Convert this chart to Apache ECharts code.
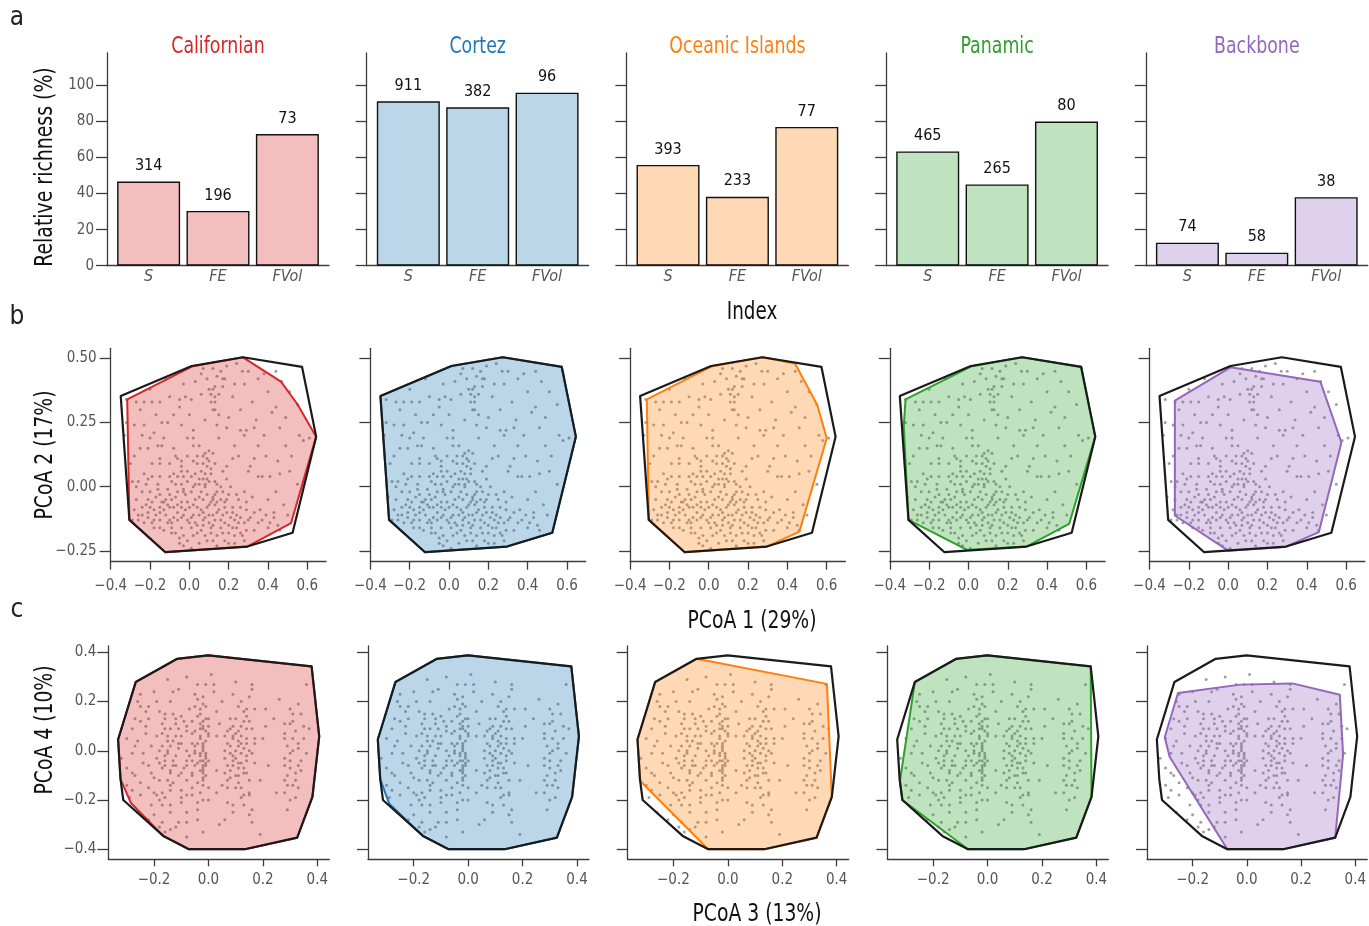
<!DOCTYPE html>
<html>
<head>
<meta charset="utf-8">
<script src="https://cdn.jsdelivr.net/npm/echarts@6/dist/echarts.min.js"></script>
<style>
  html, body { margin: 0; padding: 0; background: #fff; }
  #chart { width: 1369px; height: 926px; }
</style>
</head>
<body>
<div id="chart"></div>
<script>
// ---- data -------------------------------------------------------------
const regions = ['Californian', 'Cortez', 'Oceanic Islands', 'Panamic', 'Backbone'];
const regionColors = ['#d62728', '#1f77b4', '#ff7f0e', '#2ca02c', '#9467bd'];
const indexNames = ['S', 'FE', 'FVol'];

// relative richness (%) per region: species, functional entities, functional volume
const speciesPct = [46.7, 91.2, 55.9, 63.4, 12.8];
const fePct      = [30.4, 87.9, 38.2, 45.1, 7.2];
const fvolPct    = [73, 96, 77, 80, 38];
// absolute counts printed above the S and FE bars
const speciesCount = [314, 911, 393, 465, 74];
const feCount      = [196, 382, 233, 265, 58];

// species scores on PCoA axes 1 and 2
const pcoa12 = [
  [0.24,0.48],[0.07,0.46],[0.12,0.46],[0.16,0.45],[0.27,0.45],[0.38,0.44],[0.09,0.42],[0.17,0.42],[0.35,0.42],[0.47,0.41],
  [0.23,0.40],[0.13,0.39],[0.17,0.39],[-0.03,0.40],[0.51,0.37],[-0.20,0.38],[-0.10,0.35],[0.06,0.36],[0.11,0.36],[0.15,0.36],
  [-0.32,0.34],[-0.27,0.33],[-0.23,0.33],[-0.19,0.33],[-0.15,0.33],[-0.05,0.34],[0.01,0.34],[0.13,0.33],[0.32,0.33],[0.55,0.32],
  [-0.05,0.31],[0.13,0.30],[0.49,0.27],[0.34,0.26],[-0.32,0.25],[-0.28,0.24],[-0.14,0.25],[-0.11,0.25],[-0.23,0.24],[-0.04,0.24],
  [0.14,0.24],[0.19,0.23],[0.26,0.22],[0.29,0.22],[0.33,0.23],[0.46,0.23],[0.02,0.22],[-0.18,0.21],[0.02,0.19],[0.28,0.20],
  [0.61,0.19],[-0.20,0.19],[-0.01,0.19],[0.58,0.18],[-0.25,0.15],[-0.21,0.15],[-0.16,0.16],[-0.14,0.16],[0.02,0.16],[0.05,0.16],
  [0.23,0.16],[0.35,0.16],[0.49,0.16],[-0.07,0.12],[-0.06,0.11],[-0.15,0.11],[0.04,0.12],[0.08,0.13],[0.12,0.13],[0.09,0.11],
  [-0.04,0.10],[0.02,0.10],[0.07,0.09],[-0.15,0.09],[-0.10,0.09],[0.09,0.08],[0.19,0.08],[0.22,0.11],[0.31,0.08],[-0.08,0.05],
  [-0.04,0.06],[-0.01,0.06],[0.03,0.05],[0.11,0.05],[0.30,0.06],[-0.23,0.05],[-0.21,0.03],[-0.19,0.04],[-0.15,0.04],[-0.10,0.04],
  [-0.06,0.04],[-0.03,0.04],[0.01,0.04],[0.07,0.03],[0.09,0.03],[0.13,0.02],[0.19,0.03],[0.35,0.04],[0.37,0.04],[0.41,0.04],
  [0.46,0.05],[-0.29,0.02],[-0.26,0.02],[-0.16,0.01],[-0.09,0.02],[-0.04,0.01],[-0.01,0.02],[0.03,0.01],[0.08,0.01],[0.14,0.01],
  [-0.15,-0.03],[-0.10,-0.03],[-0.06,-0.02],[-0.03,-0.01],[0.02,0.00],[0.06,-0.02],[0.09,-0.03],[0.14,-0.02],[0.20,-0.03],[0.24,-0.03],
  [0.28,-0.02],[-0.21,-0.05],[-0.17,-0.04],[-0.13,-0.06],[-0.09,-0.05],[-0.04,-0.06],[-0.01,-0.06],[0.03,-0.05],[0.07,-0.05],[0.12,-0.05],
  [0.16,-0.05],[0.19,-0.05],[0.32,-0.04],[-0.28,-0.09],[-0.24,-0.08],[-0.20,-0.08],[-0.15,-0.08],[-0.11,-0.07],[-0.08,-0.08],[-0.04,-0.08],
  [0.00,-0.08],[0.04,-0.08],[0.09,-0.08],[0.13,-0.07],[0.18,-0.08],[0.22,-0.08],[0.26,-0.08],[0.29,-0.09],[-0.26,-0.11],[-0.21,-0.10],
  [-0.15,-0.10],[-0.12,-0.11],[-0.06,-0.10],[-0.03,-0.11],[0.02,-0.11],[0.07,-0.10],[0.10,-0.11],[0.14,-0.10],[0.19,-0.10],[0.24,-0.11],
  [0.33,-0.10],[0.39,-0.11],[0.43,-0.10],[0.50,-0.11],[-0.29,-0.13],[-0.23,-0.14],[-0.18,-0.13],[-0.11,-0.14],[-0.06,-0.13],[-0.01,-0.13],
  [0.03,-0.14],[0.07,-0.13],[0.13,-0.13],[0.18,-0.14],[0.23,-0.13],[0.28,-0.14],[0.35,-0.14],[0.41,-0.14],[0.45,-0.15],[-0.15,-0.16],
  [-0.09,-0.16],[-0.04,-0.16],[0.01,-0.16],[0.06,-0.17],[0.11,-0.16],[0.16,-0.16],[0.22,-0.16],[0.29,-0.17],[0.46,-0.17],[-0.09,-0.18],
  [-0.03,-0.19],[0.04,-0.18],[0.14,-0.19],[0.20,-0.18],[0.26,-0.18],[-0.01,-0.21],[0.09,-0.21],[0.18,-0.21],[0.28,-0.21],[-0.03,-0.23],
  [0.01,-0.24],[0.14,-0.23],[0.23,-0.22],[-0.19,-0.06],[-0.13,-0.09],[-0.07,-0.04],[0.05,-0.04],[0.11,-0.06],[0.15,-0.09],[0.21,-0.12],
  [0.25,-0.14],[-0.17,-0.11],[-0.21,-0.12],[-0.08,-0.12],[0.00,-0.14],[0.05,-0.11],[0.10,-0.14],[0.17,-0.11],[-0.12,-0.05],[-0.02,-0.03],
  [0.08,0.00],[0.12,-0.04],[0.16,0.00],[-0.04,0.08],[0.06,0.06],[0.10,0.10],[-0.24,-0.02],[-0.26,-0.13],[0.31,-0.12],[0.36,-0.09],
  [0.40,-0.16],[0.27,-0.19],[0.33,-0.17],[0.00,0.28],[0.06,0.44],[0.19,0.47],[0.10,0.38],[-0.12,0.42],[0.42,0.29],[0.52,0.12],
  [0.55,0.01],[0.45,0.10],[-0.30,0.09],[-0.33,0.20],[-0.27,-0.05],[-0.18,-0.16],[-0.05,-0.20],[0.08,-0.19],[0.12,-0.15],[-0.10,-0.13],
  [-0.22,-0.07],[-0.18,-0.09],[-0.14,-0.06],[-0.10,-0.08],[-0.06,-0.07],[-0.02,-0.09],[0.02,-0.07],[0.06,-0.09],[0.10,-0.07],[0.14,-0.06],
  [0.18,-0.06],[0.22,-0.10],[0.26,-0.12],[0.30,-0.13],[-0.24,-0.11],[-0.19,-0.14],[-0.15,-0.13],[-0.09,-0.14],[-0.04,-0.12],[0.01,-0.12],
  [0.04,-0.15],[0.08,-0.12],[0.12,-0.11],[0.16,-0.13],[0.20,-0.15],[0.24,-0.16],[-0.13,-0.17],[-0.07,-0.18],[0.02,-0.19],[0.07,-0.15],
  [0.11,-0.18],[0.17,-0.18],[0.23,-0.19],[-0.05,-0.22],[0.05,-0.22],[0.12,-0.21],[0.20,-0.22],[-0.20,-0.02],[-0.16,-0.01],[-0.11,-0.01],
  [-0.07,0.01],[-0.03,-0.02],[0.01,-0.02],[0.05,0.01],[0.10,0.02],[0.13,-0.03],[0.17,-0.02],[0.21,0.00],[0.25,-0.05],[0.29,-0.06],
  [-0.27,0.00],[-0.22,0.01],[0.05,0.03],[0.08,0.05],[0.11,0.07],[0.13,0.09],[0.07,0.12],[0.10,0.14],[0.04,0.09],[-0.01,0.12],
  [0.12,0.30],[0.11,0.33],[0.13,0.35],[0.12,0.38],[0.14,0.43],[0.15,0.28],[0.08,0.26],[-0.08,0.28],[-0.17,0.28],[-0.25,0.30],
  [0.22,0.35],[0.28,0.40],[0.40,0.37],[0.44,0.31],[0.38,0.20],[0.26,0.30],[0.20,0.27],[-0.13,0.19],[-0.28,0.12],[-0.31,-0.04],
  [0.40,-0.05],[0.44,-0.02],[0.48,-0.07],[0.37,-0.13],[0.43,-0.12],[0.15,0.19],[0.25,0.12],[0.33,0.11],[0.39,0.12],[-0.02,0.35],
  [0.03,0.41],[0.18,0.42],[0.30,0.45],[0.44,0.45],[0.56,0.20],[0.51,0.06],[-0.19,0.09],[-0.24,0.20],[-0.08,0.15],[0.17,0.06]
];

// species scores on PCoA axes 3 and 4
const pcoa34 = [
  [-0.15,0.29],[0.01,0.31],[-0.04,0.27],[-0.01,0.27],[0.16,0.27],[0.16,0.25],[0.02,0.24],[0.09,0.23],[-0.25,0.23],[-0.13,0.24],
  [-0.11,0.25],[-0.05,0.23],[-0.02,0.22],[-0.19,0.20],[-0.14,0.20],[0.12,0.20],[-0.25,0.18],[-0.22,0.18],[-0.07,0.17],[-0.05,0.18],
  [-0.03,0.17],[-0.01,0.18],[0.14,0.17],[0.13,0.16],[0.17,0.17],[0.03,0.16],[0.31,0.15],[0.34,0.15],[0.33,0.19],[0.36,0.27],
  [-0.27,0.13],[-0.22,0.13],[-0.18,0.16],[-0.16,0.15],[-0.12,0.13],[-0.10,0.14],[-0.06,0.12],[-0.03,0.11],[0.00,0.13],[-0.02,0.10],
  [0.08,0.13],[0.10,0.13],[0.13,0.12],[0.15,0.12],[0.28,0.11],[0.30,0.11],[-0.28,0.09],[-0.16,0.09],[-0.14,0.09],[-0.11,0.09],
  [-0.08,0.08],[-0.05,0.08],[-0.02,0.09],[0.00,0.07],[0.08,0.09],[0.11,0.08],[0.14,0.09],[0.16,0.09],[-0.23,0.07],[-0.17,0.07],
  [-0.15,0.06],[-0.10,0.06],[-0.06,0.07],[-0.03,0.06],[0.00,0.06],[0.03,0.06],[0.06,0.06],[0.09,0.05],[0.12,0.06],[0.17,0.05],
  [0.28,0.07],[0.28,0.05],[0.31,0.05],[0.35,0.05],[-0.30,0.05],[-0.27,0.02],[-0.17,0.02],[-0.14,0.02],[-0.10,0.03],[-0.06,0.03],
  [-0.04,0.03],[-0.02,0.02],[0.07,0.03],[0.11,0.02],[0.14,0.03],[0.17,0.03],[-0.28,-0.01],[-0.24,-0.01],[-0.18,0.00],[-0.15,-0.01],
  [-0.11,0.01],[-0.08,0.00],[-0.05,-0.01],[-0.03,-0.01],[-0.01,-0.01],[0.06,0.00],[0.08,-0.01],[0.12,-0.01],[0.14,-0.02],[0.16,-0.01],
  [0.33,0.01],[0.31,0.00],[0.36,-0.01],[-0.19,-0.03],[-0.16,-0.04],[-0.13,-0.04],[-0.08,-0.04],[-0.06,-0.04],[-0.03,-0.04],[-0.02,-0.04],
  [0.06,-0.03],[0.09,-0.04],[0.14,-0.04],[0.28,-0.03],[0.30,-0.04],[0.34,-0.04],[-0.22,-0.06],[-0.17,-0.07],[-0.13,-0.06],[-0.08,-0.06],
  [-0.05,-0.06],[-0.02,-0.06],[-0.01,-0.05],[0.07,-0.06],[0.09,-0.06],[0.12,-0.05],[0.17,-0.05],[0.33,-0.06],[-0.28,-0.09],[-0.21,-0.09],
  [-0.14,-0.08],[-0.10,-0.09],[-0.06,-0.09],[-0.03,-0.08],[-0.02,-0.08],[0.08,-0.08],[0.11,-0.10],[0.14,-0.09],[0.29,-0.10],[0.34,-0.08],
  [-0.25,-0.13],[-0.18,-0.12],[-0.15,-0.12],[-0.13,-0.13],[-0.08,-0.12],[-0.04,-0.13],[-0.02,-0.11],[0.07,-0.12],[0.11,-0.13],[0.15,-0.12],
  [0.28,-0.12],[0.32,-0.12],[0.31,-0.14],[-0.28,-0.16],[-0.20,-0.17],[-0.17,-0.17],[-0.14,-0.16],[-0.10,-0.16],[-0.06,-0.15],[-0.02,-0.14],
  [0.00,-0.15],[0.07,-0.15],[0.12,-0.15],[0.15,-0.17],[0.28,-0.17],[0.25,-0.17],[-0.25,-0.18],[-0.19,-0.18],[-0.16,-0.19],[-0.08,-0.18],
  [-0.06,-0.18],[0.03,-0.17],[0.13,-0.18],[0.15,-0.18],[-0.02,-0.20],[0.00,-0.20],[-0.21,-0.22],[-0.17,-0.22],[-0.14,-0.22],[-0.10,-0.21],
  [0.07,-0.21],[0.09,-0.22],[0.30,-0.20],[0.29,-0.24],[-0.20,-0.26],[-0.14,-0.25],[-0.08,-0.25],[-0.04,-0.24],[0.09,-0.25],[0.15,-0.26],
  [0.16,-0.29],[-0.17,-0.29],[-0.11,-0.29],[-0.08,-0.29],[-0.04,-0.28],[0.06,-0.28],[-0.16,-0.33],[-0.14,-0.32],[-0.08,-0.35],[-0.02,-0.33],
  [0.19,-0.34],[-0.01,0.04],[-0.02,0.00],[-0.01,-0.03],[-0.02,-0.07],[-0.01,-0.10],[0.00,0.10],[-0.03,0.15],[0.10,0.00],[0.09,-0.02],
  [0.11,0.04],[0.10,0.07],[0.13,-0.07],[0.10,-0.10],[-0.13,0.04],[-0.15,0.00],[-0.12,-0.02],[-0.16,-0.06],[-0.11,-0.10],[-0.12,0.11],
  [0.32,0.08],[0.30,-0.07],[0.33,-0.15],[-0.30,-0.07],[-0.23,0.10],[0.05,0.20],[0.21,0.10],[0.24,0.13],[-0.26,0.20],[0.37,0.09],
  [-0.32,-0.03],[-0.30,-0.14],[-0.29,-0.19],[-0.26,-0.25],[-0.22,-0.28],[-0.18,-0.31],[-0.01,-0.02],[-0.02,0.03],[0.11,-0.07],[0.13,0.01],
  [-0.02,0.01],[-0.01,-0.06],[-0.02,-0.09],[-0.03,0.05],[-0.01,0.08],[-0.02,0.12],[-0.04,0.14],[-0.03,-0.02],[-0.02,-0.12],[-0.01,0.13],
  [-0.04,-0.05],[-0.05,0.02],[-0.03,0.09],[0.00,-0.04],[-0.02,0.19],[-0.04,0.21],[-0.06,-0.10],[-0.03,-0.17],[-0.04,-0.21],[-0.05,0.00],
  [0.08,0.02],[0.09,0.06],[0.10,-0.03],[0.12,0.03],[0.11,-0.05],[0.13,-0.09],[0.09,0.10],[0.12,0.10],[0.14,0.05],[0.15,0.00],
  [0.08,-0.11],[0.10,-0.15],[0.12,-0.19],[0.14,0.14],[0.11,0.18],[0.15,0.22],[0.13,-0.22],[0.16,-0.24],[0.07,0.08],[0.06,-0.09],
  [-0.15,0.04],[-0.16,-0.02],[-0.14,-0.09],[-0.12,0.06],[-0.17,0.11],[-0.13,0.15],[-0.19,0.06],[-0.18,-0.05],[-0.12,-0.06],[-0.11,0.03],
  [-0.16,0.13],[-0.14,-0.14],[-0.10,-0.19],[-0.18,-0.20],[-0.09,0.12],[-0.07,-0.02],[-0.08,0.10],[-0.21,0.02],[-0.20,-0.11],[-0.09,-0.07],
  [0.29,0.02],[0.30,-0.01],[0.32,-0.09],[0.31,0.12],[0.29,-0.14],[0.33,0.03],[0.28,-0.06],[0.35,0.10],[0.32,-0.19],[0.30,0.17],
  [-0.26,0.04],[-0.24,-0.05],[-0.27,-0.10],[-0.25,0.12],[-0.22,-0.15],[-0.23,0.16],[0.04,0.11],[0.03,-0.08],[0.05,-0.14],[0.20,0.05],
  [0.22,-0.06],[0.21,0.17],[0.02,0.27],[-0.08,0.30],[0.10,0.28],[-0.20,0.24],[0.26,0.21],[0.19,-0.12],[0.04,-0.30],[-0.12,-0.31]
];

// convex hull of the whole species pool, PCoA 1-2 and PCoA 3-4
const poolHull12 = [[-0.349,0.353],[0.012,0.470],[0.273,0.504],[0.573,0.467],[0.645,0.195],[0.525,-0.179],[0.295,-0.233],[-0.122,-0.255],[-0.305,-0.129]];
const poolHull34 = [[-0.267,0.280],[-0.115,0.374],[-0.001,0.388],[0.379,0.343],[0.407,0.059],[0.382,-0.187],[0.326,-0.353],[0.134,-0.400],[-0.072,-0.400],[-0.166,-0.346],[-0.313,-0.200],[-0.323,-0.116],[-0.332,0.046]];

// convex hull of each region's species
const regionHull12 = [
  [[-0.316,0.340],[0.012,0.468],[0.273,0.504],[0.466,0.409],[0.549,0.322],[0.645,0.195],[0.517,-0.142],[0.295,-0.233],[-0.122,-0.255],[-0.305,-0.129]],
  [[-0.349,0.353],[0.012,0.470],[0.273,0.504],[0.573,0.467],[0.645,0.195],[0.525,-0.179],[0.295,-0.233],[-0.122,-0.255],[-0.305,-0.129]],
  [[-0.315,0.340],[0.012,0.468],[0.273,0.504],[0.439,0.480],[0.552,0.318],[0.600,0.189],[0.461,-0.175],[0.295,-0.233],[-0.122,-0.255],[-0.305,-0.129]],
  [[-0.320,0.340],[0.012,0.468],[0.273,0.504],[0.573,0.467],[0.645,0.195],[0.512,-0.145],[0.295,-0.233],[-0.007,-0.246],[-0.305,-0.129],[-0.329,0.234]],
  [[-0.271,0.335],[0.012,0.465],[0.469,0.409],[0.576,0.172],[0.461,-0.177],[0.288,-0.235],[0.000,-0.249],[-0.271,-0.112]]
];
const regionHull34 = [
  [[-0.267,0.280],[-0.115,0.374],[-0.001,0.388],[0.379,0.343],[0.407,0.059],[0.382,-0.187],[0.326,-0.353],[0.134,-0.400],[-0.072,-0.400],[-0.166,-0.346],[-0.285,-0.212],[-0.323,-0.116],[-0.332,0.046]],
  [[-0.267,0.280],[-0.115,0.374],[-0.001,0.388],[0.379,0.343],[0.407,0.059],[0.382,-0.187],[0.326,-0.353],[0.134,-0.400],[-0.072,-0.400],[-0.166,-0.346],[-0.290,-0.215],[-0.323,-0.116],[-0.332,0.046]],
  [[-0.267,0.280],[-0.115,0.374],[0.364,0.272],[0.382,-0.187],[0.326,-0.353],[0.134,-0.400],[-0.072,-0.400],[-0.322,-0.123],[-0.332,0.046]],
  [[-0.267,0.280],[-0.115,0.374],[-0.001,0.388],[0.379,0.343],[0.382,-0.187],[0.326,-0.353],[0.134,-0.400],[-0.072,-0.400],[-0.313,-0.200],[-0.322,-0.123]],
  [[-0.254,0.235],[-0.025,0.269],[0.168,0.274],[0.343,0.228],[0.355,-0.015],[0.326,-0.353],[0.134,-0.400],[-0.072,-0.400],[-0.285,-0.024],[-0.303,0.055]]
];

// tick values
const richTicks = [0, 20, 40, 60, 80, 100];
const pc1Ticks = [-0.4, -0.2, 0, 0.2, 0.4, 0.6];
const pc2Ticks = [-0.25, 0, 0.25, 0.5];
const pc3Ticks = [-0.2, 0, 0.2, 0.4];
const pc4Ticks = [-0.4, -0.2, 0, 0.2, 0.4];

// ---- styling helpers ---------------------------------------------------
const FONT = "'Liberation Sans Narrow', 'DejaVu Sans Condensed', 'Roboto', sans-serif";
const AXIS_COLOR = '#3c3c3c';
const LABEL_COLOR = '#555555';
const TICK_FONT = 15;
const COL_STEP = 259.7;

function tint(hex, a) {
  const n = parseInt(hex.slice(1), 16);
  return `rgba(${n >> 16},${(n >> 8) & 255},${n & 255},${a})`;
}
function signed(d) {
  return v => (v < -1e-9 ? '\u2212' : '') + Math.abs(v).toFixed(d);
}
function axisBase() {
  return {
    type: 'value',
    axisLine: { show: true, onZero: false, lineStyle: { color: AXIS_COLOR, width: 1.3 } },
    splitLine: { show: false },
  };
}

const grids = [], xAxes = [], yAxes = [], series = [];

function polygonSeries(gi, pts, fill, stroke, width, z) {
  return {
    type: 'custom', xAxisIndex: gi, yAxisIndex: gi, z: z, silent: true,
    data: [[0, 0]],
    renderItem: (params, api) => ({
      type: 'polygon',
      shape: { points: pts.map(p => api.coord(p)) },
      style: { fill: fill, stroke: stroke, lineWidth: width, lineJoin: 'round' }
    })
  };
}

// ---- row a: relative richness bars --------------------------------------
regions.forEach((name, i) => {
  const gi = grids.length;
  grids.push({ left: 107 + COL_STEP * i, top: 53, width: 222, height: 212.7 });
  xAxes.push(Object.assign(axisBase(), {
    gridIndex: gi, min: -0.6, max: 2.6,
    axisTick: { show: false },
    axisLabel: {
      customValues: [0, 1, 2], margin: 3, fontSize: 16, fontStyle: 'italic', color: LABEL_COLOR, fontFamily: FONT,
      formatter: v => indexNames[Math.round(v)]
    }
  }));
  yAxes.push(Object.assign(axisBase(), {
    gridIndex: gi, min: 0, max: 118,
    axisTick: { show: true, customValues: richTicks, length: 11, lineStyle: { color: AXIS_COLOR, width: 1.3 } },
    axisLabel: { show: i === 0, customValues: richTicks, margin: 13, fontSize: TICK_FONT, color: LABEL_COLOR, fontFamily: FONT }
  }));
  const vals = [speciesPct[i], fePct[i], fvolPct[i]];
  const tops = [speciesCount[i], feCount[i], fvolPct[i]];
  series.push({
    type: 'bar', xAxisIndex: gi, yAxisIndex: gi, barWidth: 63,
    data: vals.map((v, k) => [k, v]),
    itemStyle: { color: tint(regionColors[i], 0.3), borderColor: '#111', borderWidth: 1.4 },
    label: {
      show: true, position: 'top', distance: 7.5, fontSize: 16, color: '#111', fontFamily: FONT,
      formatter: p => String(tops[p.dataIndex])
    }
  });
});

// ---- rows b and c: functional space hulls -------------------------------
function spaceRow(cfg) {
  regions.forEach((name, i) => {
    const gi = grids.length;
    grids.push({ left: cfg.left + COL_STEP * i, top: cfg.top, width: cfg.width, height: cfg.height });
    xAxes.push(Object.assign(axisBase(), {
      gridIndex: gi, min: cfg.xRange[0], max: cfg.xRange[1],
      axisTick: { show: true, customValues: cfg.xTicks, length: cfg.xTickLen, lineStyle: { color: AXIS_COLOR, width: 1.3 } },
      axisLabel: { customValues: cfg.xTicks, margin: cfg.xMargin, fontSize: TICK_FONT, color: LABEL_COLOR, fontFamily: FONT, formatter: signed(1) }
    }));
    yAxes.push(Object.assign(axisBase(), {
      gridIndex: gi, min: cfg.yRange[0], max: cfg.yRange[1],
      axisTick: { show: true, customValues: cfg.yTicks, length: 11, lineStyle: { color: AXIS_COLOR, width: 1.3 } },
      axisLabel: { show: i === 0, customValues: cfg.yTicks, margin: cfg.yMargin, fontSize: TICK_FONT, color: LABEL_COLOR, fontFamily: FONT, formatter: signed(cfg.yDigits) }
    }));
    series.push({
      type: 'scatter', xAxisIndex: gi, yAxisIndex: gi, z: 1, silent: true,
      symbolSize: 3, data: cfg.points,
      itemStyle: { color: '#8e8e8e', opacity: 0.85 }
    });
    series.push(polygonSeries(gi, cfg.regionHulls[i], tint(regionColors[i], 0.3), regionColors[i], 2, 2));
    series.push(polygonSeries(gi, cfg.poolHull, 'none', '#1a1a1a', 2.2, 3));
  });
}

spaceRow({
  left: 110.7, top: 348.3, width: 215.3, height: 213.4,
  xRange: [-0.4, 0.695], yRange: [-0.292, 0.539],
  xTicks: pc1Ticks, yTicks: pc2Ticks, xTickLen: 8, xMargin: 17, yMargin: 14, yDigits: 2,
  points: pcoa12, poolHull: poolHull12, regionHulls: regionHull12
});
spaceRow({
  left: 108.3, top: 646, width: 221, height: 213.3,
  xRange: [-0.368, 0.444], yRange: [-0.441, 0.426],
  xTicks: pc3Ticks, yTicks: pc4Ticks, xTickLen: 7, xMargin: 13, yMargin: 12, yDigits: 1,
  points: pcoa34, poolHull: poolHull34, regionHulls: regionHull34
});

// ---- free text: panel letters, region titles, axis titles ---------------
const texts = [];
function addText(t, x, y, size, color, rot, sx) {
  texts.push({
    type: 'text', x: x, y: y, rotation: rot || 0, scaleX: sx || 1, silent: true,
    style: { text: t, fill: color, font: `${size}px ${FONT}`, textAlign: 'center', textVerticalAlign: 'middle' }
  });
}
addText('a', 17, 18, 26, '#222');
addText('b', 17, 317, 26, '#222');
addText('c', 17, 610, 26, '#222');
regions.forEach((name, i) => addText(name, 218 + COL_STEP * i, 47, 23, regionColors[i], 0, 0.84));
addText('Relative richness (%)', 46, 167, 24, '#111', Math.PI / 2, 0.875);
addText('Index', 752, 313, 24, '#111', 0, 0.85);
addText('PCoA 2 (17%)', 46, 455, 24, '#111', Math.PI / 2, 0.87);
addText('PCoA 1 (29%)', 752, 622, 24, '#111', 0, 0.87);
addText('PCoA 4 (10%)', 46, 730, 24, '#111', Math.PI / 2, 0.87);
addText('PCoA 3 (13%)', 757, 915, 24, '#111', 0, 0.87);

const chart = echarts.init(document.getElementById('chart'), null, { renderer: 'canvas' });
chart.setOption({
  animation: false,
  backgroundColor: '#ffffff',
  textStyle: { fontFamily: FONT },
  grid: grids,
  xAxis: xAxes,
  yAxis: yAxes,
  series: series,
  graphic: texts
});
</script>
</body>
</html>
